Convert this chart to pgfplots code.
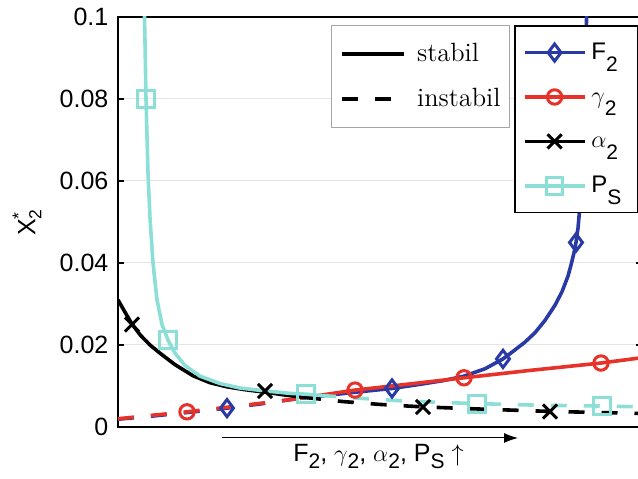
\documentclass[border=0pt]{standalone}
\usepackage{pgfplots}
\pgfplotsset{compat=1.18}
\usepackage{fontspec}
\setsansfont{Liberation Sans}
\usepackage{amsmath}
\usetikzlibrary{arrows.meta}
\definecolor{cF}{RGB}{42,58,165}
\definecolor{cG}{RGB}{230,50,40}
\definecolor{cP}{RGB}{140,223,214}
\newcommand{\sfs}{\sffamily\fontsize{12.5}{15}\selectfont}
\newcommand{\ls}[1]{\raisebox{-6pt}{\fontsize{10.5}{12}\selectfont #1}}
\newcommand{\xs}[1]{\raisebox{-3.6pt}{\fontsize{10.5}{12}\selectfont #1}}
\begin{document}
\begin{tikzpicture}
\begin{axis}[name=ax, scale only axis, width=262pt, height=205pt,
  xmin=118, xmax=642, ymin=0, ymax=0.1,
  xtick=\empty, ytick={0,0.02,0.04,0.06,0.08,0.1},
  scaled y ticks=false,
  /pgf/number format/assume math mode=true,
  yticklabel style={/pgf/number format/fixed, /pgf/number format/precision=2, font=\sfs, xshift=-1.3pt},
  tick align=inside, major tick length=3pt, tick style={black, line width=0.6pt},
  ymajorgrids, grid style={gray!20, line width=0.5pt},
  axis line style={line width=0.8pt},
  ylabel={$\text{X}^{\text{*}}_{\text{2}}$},
  ylabel style={at={(axis description cs:-0.1737,0.5)}, anchor=center, font=\sfs},
  xlabel={F\xs{2}, $\gamma$\xs{2}, $\alpha$\xs{2}, P\xs{S} $\uparrow$},
  xlabel style={at={(axis description cs:0.497,-0.0840)}, anchor=base, font=\sffamily\fontsize{12.5}{15}\selectfont},
  legend cell align=left,
  legend image code/.code={\draw[mark repeat=2,mark phase=2,#1] plot coordinates {(0pt,0pt)(15pt,0pt)(30pt,0pt)};},
  legend style={at={(axis description cs:0.7557,0.9805)}, anchor=north west, draw=black, line width=0.8pt, fill=white,
    inner xsep=4pt, inner ysep=2.3pt, font=\sffamily\fontsize{12}{14}\selectfont, row sep=0pt,
    nodes={inner sep=0pt, text height=14.4pt, text depth=7.8pt},
    /tikz/every odd column/.append style={column sep=2.5pt}},
  dashstyle/.style={dash pattern=on 8pt off 8.5pt},
]
\addlegendimage{cF, line width=1.8pt, mark=diamond, mark size=4.3pt, mark options={line width=1.5pt}}
\addlegendentry{F\ls{2}}
\addlegendimage{cG, line width=1.8pt, mark=o, mark size=3.6pt, mark options={line width=1.5pt}}
\addlegendentry{$\gamma$\ls{2}}
\addlegendimage{black, line width=1.8pt, mark=x, mark size=5pt, mark options={line width=1.5pt}}
\addlegendentry{$\alpha$\ls{2}}
\addlegendimage{cP, line width=1.8pt, mark=square, mark size=4.2pt, mark options={line width=1.5pt}}
\addlegendentry{P\ls{S}\hspace*{4pt}}

% F2
\addplot[cF, line width=1.8pt, dashstyle, forget plot] coordinates {
(118,0.0019) (150,0.0026) (190,0.0036) (227,0.0046) (260,0.0056) (300,0.0070)};
\addplot[cF, line width=1.8pt, forget plot] coordinates {
(300,0.0070) (330,0.0078) (360,0.0086) (392,0.0094) (420,0.0104) (443,0.0113) (464,0.0124)
(485,0.0142) (503,0.0166) (515,0.0188) (525,0.0207) (535,0.0230) (545,0.0260) (555,0.0297)
(562,0.0330) (568,0.0368) (571,0.0395) (574,0.0425) (576,0.0450) (578,0.0485) (580,0.0540)
(581.5,0.0600) (583,0.0690) (584.5,0.0800) (585.7,0.0910) (586.6,0.1) (586.9,0.104)};
\addplot[cF, only marks, mark=diamond, mark size=4.3pt, line width=1.5pt, forget plot] coordinates {
(227,0.0046) (392,0.0094) (503,0.0166) (576,0.0450)};

% gamma2
\addplot[cG, line width=1.8pt, dashstyle, forget plot] coordinates {
(118,0.0020) (150,0.0028) (187,0.0037) (230,0.0049) (265,0.0059) (300,0.0070)};
\addplot[cG, line width=1.8pt, forget plot] coordinates {
(300,0.0070) (355,0.0090) (410,0.0105) (464,0.0120) (530,0.0138) (601,0.0156) (642,0.0169)};
\addplot[cG, only marks, mark=o, mark size=3.6pt, line width=1.5pt, forget plot] coordinates {
(187,0.0037) (355,0.0090) (464,0.0120) (601,0.0156)};

% alpha2
\addplot[black, line width=1.8pt, forget plot] coordinates {
(118,0.0310) (125,0.0280) (132,0.0251) (140,0.0225) (150,0.0200) (160,0.0180) (175,0.0152)
(193,0.0125) (210,0.0108) (227,0.0098) (245,0.0091) (265,0.0085) (285,0.0078) (305,0.0072)};
\addplot[black, line width=1.8pt, dashstyle, forget plot] coordinates {
(305,0.0072) (343,0.0062) (380,0.0055) (423,0.0049) (477,0.0044) (550,0.0038) (642,0.0033)};
\addplot[black, only marks, mark=x, mark size=5pt, line width=1.5pt, forget plot] coordinates {
(132,0.0250) (265,0.0088) (423,0.0049) (550,0.0038)};

% P_S
\addplot[cP, line width=1.8pt, forget plot] coordinates {
(144.3,0.104) (144.5,0.1) (145,0.094) (146,0.080) (148,0.062) (150,0.051) (153,0.040) (157,0.031)
(162,0.025) (168,0.0212) (175,0.0180) (185,0.0150) (200,0.0124) (220,0.0106) (240,0.0095)
(265,0.0088) (290,0.0082) (306,0.0080) (320,0.0077)};
\addplot[cP, line width=1.8pt, dashstyle, forget plot] coordinates {
(320,0.0077) (360,0.0070) (400,0.0064) (440,0.0060) (477,0.0057) (540,0.0053) (602,0.0051) (642,0.0049)};
\addplot[cP, only marks, mark=square, mark size=4.2pt, line width=1.5pt, forget plot] coordinates {
(146,0.080) (168,0.0212) (306,0.0080) (477,0.0057) (602,0.0051)};
\end{axis}

\begin{axis}[at={(ax.south west)}, anchor=south west, scale only axis, width=262pt, height=205pt,
  hide axis, xmin=0, xmax=1, ymin=0, ymax=1,
  legend cell align=left,
  legend image code/.code={\draw[#1] (0pt,0pt) -- (31pt,0pt);},
  legend style={at={(axis description cs:0.4065,0.9805)}, anchor=north west, draw=gray!70, line width=0.5pt, fill=white,
    inner xsep=4.5pt, inner ysep=3pt, font=\rmfamily\fontsize{13.2}{16}\selectfont, row sep=0pt,
    nodes={inner sep=0pt, text height=15.25pt, text depth=7.25pt},
    /tikz/every odd column/.append style={column sep=5.5pt}},
]
\addlegendimage{black, line width=1.8pt}
\addlegendentry{stabil}
\addlegendimage{black, line width=1.8pt, dash pattern=on 8pt off 8.5pt}
\addlegendentry{instabil}
\end{axis}

\draw[line width=0.5pt, -{Latex[length=7pt,width=5pt]}] ([shift={(52pt,-5.5pt)}]ax.south west) -- ([shift={(200pt,-5.5pt)}]ax.south west);
\pgfresetboundingbox
\path ([shift={(-59pt,-26pt)}]ax.south west) rectangle ([shift={(-2pt,8.5pt)}]ax.north east);
\end{tikzpicture}
\end{document}
